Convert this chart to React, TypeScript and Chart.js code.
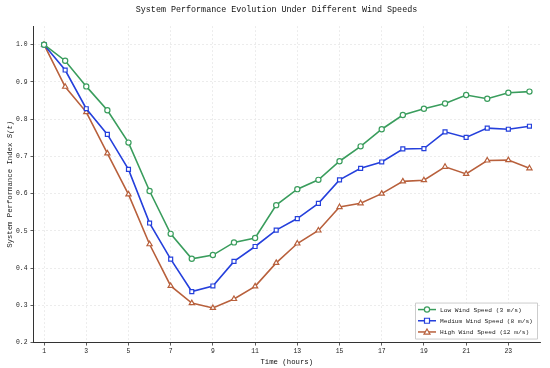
import React, { useEffect, useRef } from "react";
import { Chart, registerables } from "chart.js";

Chart.register(...registerables);

const hours = [1, 2, 3, 4, 5, 6, 7, 8, 9, 10, 11, 12, 13, 14, 15, 16, 17, 18, 19, 20, 21, 22, 23, 24];
const lowWind = [1.0, 0.957, 0.888, 0.824, 0.737, 0.607, 0.492, 0.425, 0.435, 0.469, 0.481, 0.569, 0.612, 0.637, 0.687, 0.727, 0.773, 0.811, 0.828, 0.842, 0.865, 0.855, 0.871, 0.874];
const mediumWind = [1.0, 0.932, 0.828, 0.759, 0.665, 0.521, 0.424, 0.337, 0.352, 0.418, 0.458, 0.502, 0.533, 0.574, 0.637, 0.668, 0.685, 0.72, 0.721, 0.766, 0.751, 0.776, 0.773, 0.781];
const highWind = [1.0, 0.887, 0.819, 0.708, 0.598, 0.464, 0.352, 0.306, 0.293, 0.317, 0.351, 0.414, 0.466, 0.501, 0.564, 0.574, 0.6, 0.633, 0.636, 0.672, 0.653, 0.689, 0.69, 0.668];
const xTickLabels = [1, 3, 5, 7, 9, 11, 13, 15, 17, 19, 21, 23];
const yTickLabels = [0.2, 0.3, 0.4, 0.5, 0.6, 0.7, 0.8, 0.9, 1.0];
const seriesNames = ["Low Wind Speed (3 m/s)", "Medium Wind Speed (8 m/s)", "High Wind Speed (12 m/s)"];

const GREEN = "#3a9d5d";
const BLUE = "#2540dc";
const RED = "#b8603c";
const FONT = "'Liberation Mono', 'DejaVu Sans Mono', monospace";

const toPts = (arr: number[]) => arr.map((v, i) => ({ x: hours[i], y: v }));

const extrasPlugin = {
  id: "extras",
  afterDraw(chart: any) {
    const ctx = chart.ctx as CanvasRenderingContext2D;
    const area = chart.chartArea;
    // y-axis title with italic S(t)
    ctx.save();
    ctx.translate(10, (area.top + area.bottom) / 2);
    ctx.rotate(-Math.PI / 2);
    ctx.fillStyle = "#222";
    ctx.textBaseline = "middle";
    const f1 = `7.3px ${FONT}`;
    const f2 = `italic 7.3px ${FONT}`;
    const t1 = "System Performance Index ";
    const t2 = "S(t)";
    ctx.font = f1;
    const w1 = ctx.measureText(t1).width;
    ctx.font = f2;
    const w2 = ctx.measureText(t2).width;
    const start = -(w1 + w2) / 2;
    ctx.font = f1;
    ctx.textAlign = "left";
    ctx.fillText(t1, start, 0);
    ctx.font = f2;
    ctx.fillText(t2, start + w1, 0);
    ctx.restore();

    // legend box
    const boxRight = area.right - 3;
    const boxBottom = area.bottom - 4;
    const boxW = 122;
    const boxH = 36;
    const bx = boxRight - boxW;
    const by = boxBottom - boxH;
    ctx.save();
    ctx.fillStyle = "rgba(255,255,255,0.85)";
    ctx.strokeStyle = "#cccccc";
    ctx.lineWidth = 1;
    ctx.beginPath();
    ctx.rect(bx + 0.5, by + 0.5, boxW, boxH);
    ctx.fill();
    ctx.stroke();
    const colors = [GREEN, BLUE, RED];
    const shapes = ["circle", "rect", "triangle"];
    ctx.font = `6.2px ${FONT}`;
    ctx.textBaseline = "middle";
    ctx.textAlign = "left";
    for (let i = 0; i < 3; i++) {
      const ly = by + 7 + i * 11.2;
      const lx = bx + 3;
      ctx.strokeStyle = colors[i];
      ctx.lineWidth = 1.5;
      ctx.beginPath();
      ctx.moveTo(lx, ly);
      ctx.lineTo(lx + 18, ly);
      ctx.stroke();
      const cx = lx + 9;
      ctx.fillStyle = "#fff";
      ctx.lineWidth = 1.2;
      ctx.beginPath();
      if (shapes[i] === "circle") {
        ctx.arc(cx, ly, 2.6, 0, Math.PI * 2);
      } else if (shapes[i] === "rect") {
        ctx.rect(cx - 2.5, ly - 2.5, 5, 5);
      } else {
        ctx.moveTo(cx, ly - 3);
        ctx.lineTo(cx + 3, ly + 2.2);
        ctx.lineTo(cx - 3, ly + 2.2);
        ctx.closePath();
      }
      ctx.fill();
      ctx.stroke();
      ctx.fillStyle = "#222";
      ctx.fillText(seriesNames[i], lx + 22, ly + 0.5);
    }
    ctx.restore();
  },
};

export default function App() {
  const canvasRef = useRef<HTMLCanvasElement | null>(null);

  useEffect(() => {
    document.body.style.margin = "0";
    const canvas = canvasRef.current;
    if (!canvas) return;
    const mk = (label: string, data: number[], color: string, style: string, radius: number) => ({
      label,
      data: toPts(data),
      borderColor: color,
      backgroundColor: "#ffffff",
      borderWidth: 1.6,
      pointStyle: style,
      pointRadius: radius,
      pointBorderWidth: 1.2,
      pointBorderColor: color,
      pointBackgroundColor: "#ffffff",
      tension: 0,
    });
    const chart = new Chart(canvas, {
      type: "line",
      data: {
        datasets: [
          mk(seriesNames[0], lowWind, GREEN, "circle", 2.6),
          mk(seriesNames[1], mediumWind, BLUE, "rect", 2.8),
          mk(seriesNames[2], highWind, RED, "triangle", 3),
        ],
      },
      options: {
        animation: false,
        responsive: false,
        maintainAspectRatio: false,
        layout: { padding: { left: 13, right: 10, top: 0, bottom: 2 } },
        plugins: {
          legend: { display: false },
          tooltip: { enabled: false },
          title: {
            display: true,
            text: "System Performance Evolution Under Different Wind Speeds",
            color: "#111",
            font: { family: FONT, size: 8.4, weight: "normal" },
            padding: { top: 5, bottom: 11 },
          },
        },
        scales: {
          x: {
            type: "linear",
            min: 0.5,
            max: 24.5,
            afterBuildTicks: (scale: any) => {
              scale.ticks = xTickLabels.map((v) => ({ value: v }));
            },
            ticks: {
              color: "#222",
              font: { family: FONT, size: 6.4 },
              padding: 2,
              maxRotation: 0,
              autoSkip: false,
              callback: (v: any) => String(v),
            },
            grid: {
              color: "#e8e8e8",
              lineWidth: 0.8,
              tickColor: "#333",
              tickLength: 3,
              tickWidth: 0.8,
            },
            border: { display: true, color: "#333", width: 1, dash: [2, 2] },
            title: {
              display: true,
              text: "Time (hours)",
              color: "#111",
              font: { family: FONT, size: 7.3 },
              padding: { top: 0, bottom: 0 },
            },
          },
          y: {
            type: "linear",
            min: 0.2,
            max: 1.05,
            afterBuildTicks: (scale: any) => {
              scale.ticks = yTickLabels.map((v) => ({ value: v }));
            },
            ticks: {
              color: "#222",
              font: { family: FONT, size: 6.4 },
              padding: 3,
              autoSkip: false,
              callback: (v: any) => Number(v).toFixed(1),
            },
            grid: {
              color: "#e8e8e8",
              lineWidth: 0.8,
              tickColor: "#333",
              tickLength: 3,
              tickWidth: 0.8,
            },
            border: { display: true, color: "#333", width: 1, dash: [2, 2] },
          },
        },
      },
      plugins: [extrasPlugin],
    } as any);
    return () => chart.destroy();
  }, []);

  return (
    <div style={{ width: 550, height: 368, background: "#fff" }}>
      <canvas ref={canvasRef} width={550} height={368} style={{ display: "block", width: 550, height: 368 }} />
    </div>
  );
}
